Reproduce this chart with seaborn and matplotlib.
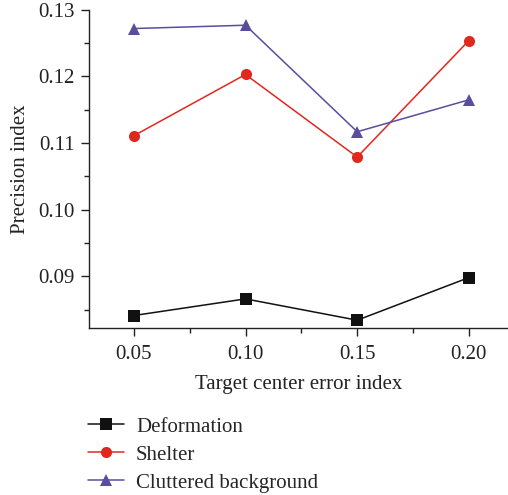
import pandas as pd
import seaborn as sns
import matplotlib.pyplot as plt
from matplotlib.ticker import MultipleLocator

sns.set_theme(style="ticks")
plt.rcParams["font.family"] = ["Liberation Serif", "DejaVu Serif"]

errors = [0.05, 0.10, 0.15, 0.20]
deformation = [0.0841, 0.0866, 0.0834, 0.0898]
shelter = [0.1111, 0.1203, 0.1079, 0.1254]
cluttered = [0.1272, 0.1277, 0.1117, 0.1165]
series = ["Deformation", "Shelter", "Cluttered background"]
colors = ["#111111", "#e0281e", "#5a4d9e"]
markers = ["s", "o", "^"]

df = pd.DataFrame({
    "error": errors * 3,
    "precision": deformation + shelter + cluttered,
    "group": [s for s in series for _ in errors],
})

fig = plt.figure(figsize=(5.08, 4.95), dpi=100)
ax = fig.add_axes([0.175, 0.337, 0.825, 0.643])

sns.lineplot(data=df, x="error", y="precision", hue="group", style="group",
             hue_order=series, style_order=series, palette=colors,
             markers=dict(zip(series, markers)), dashes=False,
             markersize=8, markeredgewidth=0, linewidth=1.1, ax=ax)

ax.set_xlim(0.0299, 0.2175)
ax.set_ylim(0.0822, 0.13)
ax.set_xticks(errors)
ax.set_xticklabels(["0.05", "0.10", "0.15", "0.20"])
ax.set_yticks([0.09, 0.10, 0.11, 0.12, 0.13])
ax.set_yticklabels(["0.09", "0.10", "0.11", "0.12", "0.13"])
ax.xaxis.set_minor_locator(MultipleLocator(0.025))
ax.yaxis.set_minor_locator(MultipleLocator(0.005))
ax.tick_params(axis="both", which="major", labelsize=15, length=6, width=1,
               pad=6, colors="#222222")
ax.tick_params(axis="y", which="major", pad=4)
ax.tick_params(axis="both", which="minor", length=3.5, width=1, color="#222222")
for lab in ax.get_xticklabels() + ax.get_yticklabels():
    lab.set_color("#222222")
sns.despine(ax=ax)
for sp in ["left", "bottom"]:
    ax.spines[sp].set_linewidth(1)
    ax.spines[sp].set_color("#222222")

ax.set_xlabel("Target center error index", fontsize=15, color="#222222", labelpad=8)
ax.set_ylabel("Precision index", fontsize=15, color="#222222", labelpad=6)

handles, labels = ax.get_legend_handles_labels()
ax.legend_.remove()
fig.legend(handles, labels, loc="upper left", bbox_to_anchor=(0.157, 0.174),
           frameon=False, fontsize=15, handlelength=1.7, handletextpad=0.6,
           labelspacing=0.4, borderaxespad=0)

fig.savefig("out.png", dpi=100)
